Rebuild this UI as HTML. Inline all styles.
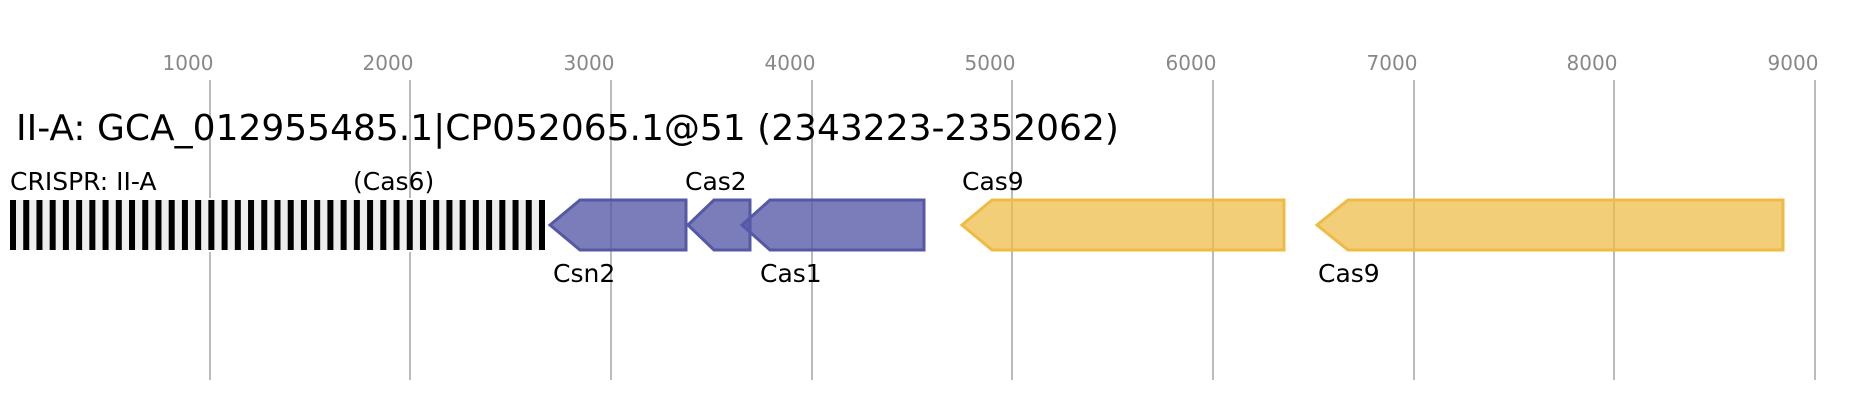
<!DOCTYPE html>
<html><head><meta charset="utf-8"><style>html,body{margin:0;padding:0;background:#fff}svg{display:block}text{font-family:"DejaVu Sans","Liberation Sans",sans-serif}</style></head>
<body>
<svg width="1868" height="400" xmlns="http://www.w3.org/2000/svg">
<g stroke="#bbb" stroke-width="2">
<line x1="210" y1="80" x2="210" y2="380"/><line x1="410" y1="80" x2="410" y2="380"/><line x1="611" y1="80" x2="611" y2="380"/><line x1="812" y1="80" x2="812" y2="380"/><line x1="1012" y1="80" x2="1012" y2="380"/><line x1="1213" y1="80" x2="1213" y2="380"/><line x1="1414" y1="80" x2="1414" y2="380"/><line x1="1614" y1="80" x2="1614" y2="380"/><line x1="1815" y1="80" x2="1815" y2="380"/>
</g>
<g fill="#888" font-size="20" text-anchor="middle">
<text x="188" y="70">1000</text><text x="388" y="70">2000</text><text x="589" y="70">3000</text><text x="790" y="70">4000</text><text x="990" y="70">5000</text><text x="1191" y="70">6000</text><text x="1392" y="70">7000</text><text x="1592" y="70">8000</text><text x="1793" y="70">9000</text>
</g>
<text x="16" y="140" font-size="36">II-A: GCA_012955485.1|CP052065.1@51 (2343223-2352062)</text>
<rect x="0" y="198" width="552" height="54" fill="#fff"/>
<rect x="10" y="200" width="535" height="50" fill="#eee"/>
<path fill="#000" d="M10 200h6v50h-6zm13.225 0h6v50h-6zm13.225 0h6v50h-6zm13.225 0h6v50h-6zm13.225 0h6v50h-6zm13.225 0h6v50h-6zm13.225 0h6v50h-6zm13.225 0h6v50h-6zm13.225 0h6v50h-6zm13.225 0h6v50h-6zm13.225 0h6v50h-6zm13.225 0h6v50h-6zm13.225 0h6v50h-6zm13.225 0h6v50h-6zm13.225 0h6v50h-6zm13.225 0h6v50h-6zm13.225 0h6v50h-6zm13.225 0h6v50h-6zm13.225 0h6v50h-6zm13.225 0h6v50h-6zm13.225 0h6v50h-6zm13.225 0h6v50h-6zm13.225 0h6v50h-6zm13.225 0h6v50h-6zm13.225 0h6v50h-6zm13.225 0h6v50h-6zm13.225 0h6v50h-6zm13.225 0h6v50h-6zm13.225 0h6v50h-6zm13.225 0h6v50h-6zm13.225 0h6v50h-6zm13.225 0h6v50h-6zm13.225 0h6v50h-6zm13.225 0h6v50h-6zm13.225 0h6v50h-6zm13.225 0h6v50h-6zm13.225 0h6v50h-6zm13.225 0h6v50h-6zm13.225 0h6v50h-6zm13.225 0h6v50h-6zm13.225 0h6v50h-6z"/>
<g fill="rgb(85,88,166)" fill-opacity="0.78" stroke="#5558a6" stroke-width="3">
<path d="M550 225L580 200H686V250H580Z"/>
<path d="M688 225L714 200H750V250H714Z"/>
<path d="M742 225L770 200H924V250H770Z"/>
</g>
<g fill="rgb(238,187,68)" fill-opacity="0.72" stroke="#eebb44" stroke-width="3">
<path d="M962 225L992 200H1284V250H992Z"/>
<path d="M1317 225L1348 200H1783V250H1348Z"/>
</g>
<g font-size="25" fill="#000">
<text x="10" y="190">CRISPR: II-A</text><text x="353" y="190">(Cas6)</text><text x="685" y="190">Cas2</text><text x="962" y="190">Cas9</text>
<text x="553" y="282">Csn2</text><text x="760" y="282">Cas1</text><text x="1318" y="282">Cas9</text>
</g>
</svg>
</body></html>
